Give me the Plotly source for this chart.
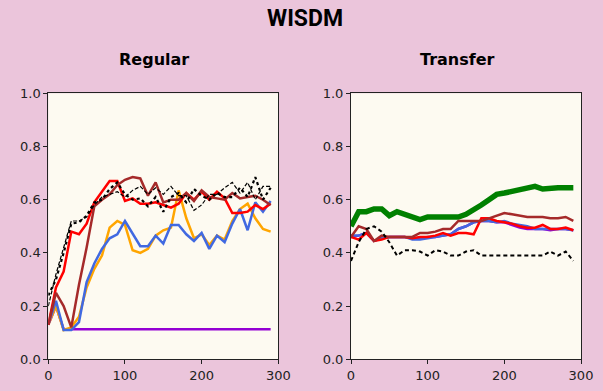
import plotly.graph_objects as go

# training steps (shared x values)
steps = list(range(0, 300, 10))

# ---- Regular panel ----
reg_purple = [0.13, 0.20, 0.113, 0.113, 0.113, 0.113, 0.113, 0.113, 0.113, 0.113,
              0.113, 0.113, 0.113, 0.113, 0.113, 0.113, 0.113, 0.113, 0.113, 0.113,
              0.113, 0.113, 0.113, 0.113, 0.113, 0.113, 0.113, 0.113, 0.113, 0.113]
reg_orange = [0.13, 0.20, 0.11, 0.12, 0.16, 0.27, 0.34, 0.39, 0.495, 0.52,
              0.505, 0.41, 0.40, 0.415, 0.465, 0.485, 0.495, 0.635, 0.53, 0.455,
              0.47, 0.43, 0.465, 0.45, 0.52, 0.565, 0.585, 0.53, 0.49, 0.48]
reg_blue = [0.13, 0.22, 0.11, 0.11, 0.14, 0.29, 0.36, 0.415, 0.455, 0.47,
            0.52, 0.47, 0.425, 0.425, 0.465, 0.435, 0.505, 0.505, 0.47, 0.445,
            0.475, 0.415, 0.465, 0.44, 0.51, 0.565, 0.485, 0.59, 0.555, 0.595]
reg_red = [0.13, 0.27, 0.33, 0.48, 0.47, 0.51, 0.59, 0.63, 0.67, 0.67,
           0.595, 0.605, 0.585, 0.585, 0.59, 0.58, 0.57, 0.585, 0.625, 0.60,
           0.63, 0.60, 0.63, 0.605, 0.55, 0.55, 0.555, 0.58, 0.565, 0.585]
reg_brown = [0.13, 0.25, 0.20, 0.12, 0.28, 0.42, 0.575, 0.60, 0.62, 0.655,
             0.675, 0.685, 0.68, 0.615, 0.665, 0.59, 0.60, 0.60, 0.625, 0.595,
             0.635, 0.61, 0.605, 0.60, 0.625, 0.605, 0.61, 0.615, 0.60, 0.58]
reg_dashed = [0.20, 0.32, 0.42, 0.52, 0.52, 0.535, 0.58, 0.61, 0.62, 0.63,
              0.61, 0.635, 0.65, 0.62, 0.645, 0.62, 0.65, 0.615, 0.615, 0.56,
              0.58, 0.62, 0.62, 0.645, 0.665, 0.625, 0.665, 0.60, 0.65, 0.65]
reg_dotted = [0.24, 0.30, 0.40, 0.51, 0.515, 0.54, 0.59, 0.60, 0.64, 0.665,
              0.62, 0.60, 0.605, 0.575, 0.61, 0.555, 0.61, 0.625, 0.59, 0.64,
              0.615, 0.60, 0.625, 0.61, 0.61, 0.645, 0.61, 0.685, 0.60, 0.645]

# ---- Transfer panel ----
tr_green = [0.50, 0.555, 0.555, 0.565, 0.565, 0.54, 0.555, 0.545, 0.54, 0.525,
            0.535, 0.535, 0.535, 0.535, 0.535, 0.545, 0.56, 0.58, 0.60, 0.62,
            0.625, 0.63, 0.635, 0.64, 0.65, 0.64, 0.645, 0.645, 0.645, 0.645]
tr_purple = [0.46, 0.465, 0.475, 0.445, 0.455, 0.46, 0.46, 0.46, 0.455, 0.455,
             0.46, 0.46, 0.465, 0.47, 0.49, 0.50, 0.515, 0.52, 0.52, 0.515,
             0.515, 0.505, 0.495, 0.49, 0.49, 0.49, 0.485, 0.49, 0.49, 0.485]
tr_blue = [0.465, 0.465, 0.475, 0.445, 0.455, 0.46, 0.46, 0.46, 0.45, 0.45,
           0.455, 0.46, 0.465, 0.47, 0.49, 0.50, 0.515, 0.52, 0.52, 0.515,
           0.52, 0.51, 0.505, 0.50, 0.49, 0.49, 0.49, 0.49, 0.49, 0.485]
tr_red = [0.46, 0.45, 0.475, 0.445, 0.45, 0.46, 0.46, 0.46, 0.455, 0.46,
          0.46, 0.465, 0.475, 0.465, 0.475, 0.475, 0.47, 0.53, 0.53, 0.52,
          0.515, 0.51, 0.50, 0.495, 0.495, 0.505, 0.49, 0.49, 0.495, 0.485]
tr_brown = [0.46, 0.50, 0.49, 0.445, 0.465, 0.46, 0.46, 0.46, 0.46, 0.475,
            0.475, 0.48, 0.49, 0.49, 0.52, 0.52, 0.52, 0.52, 0.53, 0.54,
            0.55, 0.545, 0.54, 0.535, 0.535, 0.535, 0.53, 0.53, 0.535, 0.52]
tr_dashed = [0.37, 0.44, 0.49, 0.50, 0.48, 0.44, 0.39, 0.41, 0.41, 0.405,
             0.39, 0.41, 0.405, 0.39, 0.39, 0.405, 0.41, 0.39, 0.39, 0.39,
             0.39, 0.39, 0.39, 0.39, 0.39, 0.39, 0.405, 0.39, 0.405, 0.37]

x_ticks = [0, 100, 200, 300]
y_ticks = [0.0, 0.2, 0.4, 0.6, 0.8, 1.0]

PURPLE = "#9400D3"
ORANGE = "#FFA500"
BLUE = "#4169E1"
RED = "#FF0000"
BROWN = "#A52A2A"
GREEN = "#008000"
BLACK = "#000000"

fig = go.Figure()


def add_line(y, color, width, xa, ya, dash="solid"):
    fig.add_trace(go.Scatter(
        x=steps, y=y, mode="lines", xaxis=xa, yaxis=ya,
        line=dict(color=color, width=width, dash=dash),
        showlegend=False, hoverinfo="skip",
    ))


# Regular
add_line(reg_purple, PURPLE, 2.5, "x", "y")
add_line(reg_orange, ORANGE, 2.5, "x", "y")
add_line(reg_blue, BLUE, 2.5, "x", "y")
add_line(reg_red, RED, 2.5, "x", "y")
add_line(reg_brown, BROWN, 2.5, "x", "y")
add_line(reg_dashed, BLACK, 1.2, "x", "y", dash="4px,2px")
add_line(reg_dotted, BLACK, 2.2, "x", "y", dash="dot")

# Transfer
add_line(tr_green, GREEN, 5.5, "x2", "y2")
add_line(tr_purple, PURPLE, 2.5, "x2", "y2")
add_line(tr_blue, BLUE, 2.5, "x2", "y2")
add_line(tr_red, RED, 2.5, "x2", "y2")
add_line(tr_brown, BROWN, 2.5, "x2", "y2")
add_line(tr_dashed, BLACK, 2.0, "x2", "y2", dash="4px,3px")

W, H = 603, 391
tick_font = dict(family="DejaVu Sans", size=13, color="#222222")

axis_common = dict(
    showline=True, mirror=True, linecolor="#222222", linewidth=1,
    ticks="outside", ticklen=4, tickwidth=1, tickcolor="#222222",
    showgrid=False, zeroline=False, tickfont=tick_font, automargin=False,
)

y_dom = [(H - 359.3) / H, (H - 93.3) / H]

fig.update_layout(
    width=W, height=H,
    margin=dict(l=0, r=0, t=0, b=0, pad=0, autoexpand=False),
    paper_bgcolor="#EBC5DB",
    plot_bgcolor="#FDFAF1",
    xaxis=dict(domain=[48.3 / W, 278.3 / W], range=[0, 300],
               tickvals=x_ticks, anchor="y", **axis_common),
    yaxis=dict(domain=y_dom, range=[0, 1], tickvals=y_ticks,
               tickformat=".1f", anchor="x", **axis_common),
    xaxis2=dict(domain=[351 / W, 581 / W], range=[0, 300],
                tickvals=x_ticks, anchor="y2", **axis_common),
    yaxis2=dict(domain=y_dom, range=[0, 1], tickvals=y_ticks,
                tickformat=".1f", anchor="x2", **axis_common),
    annotations=[
        dict(text="<b>WISDM</b>", x=305 / W, y=(H - 18.5) / H, xref="paper", yref="paper",
             showarrow=False, font=dict(family="Roboto", size=23, color="#000000"),
             xanchor="center", yanchor="middle"),
        dict(text="<b>Regular</b>", x=154 / W, y=(H - 60) / H, xref="paper", yref="paper",
             showarrow=False, font=dict(family="DejaVu Sans", size=16, color="#000000"),
             xanchor="center", yanchor="middle"),
        dict(text="<b>Transfer</b>", x=457 / W, y=(H - 60) / H, xref="paper", yref="paper",
             showarrow=False, font=dict(family="DejaVu Sans", size=16, color="#000000"),
             xanchor="center", yanchor="middle"),
    ],
)

fig.write_html("out.html")
